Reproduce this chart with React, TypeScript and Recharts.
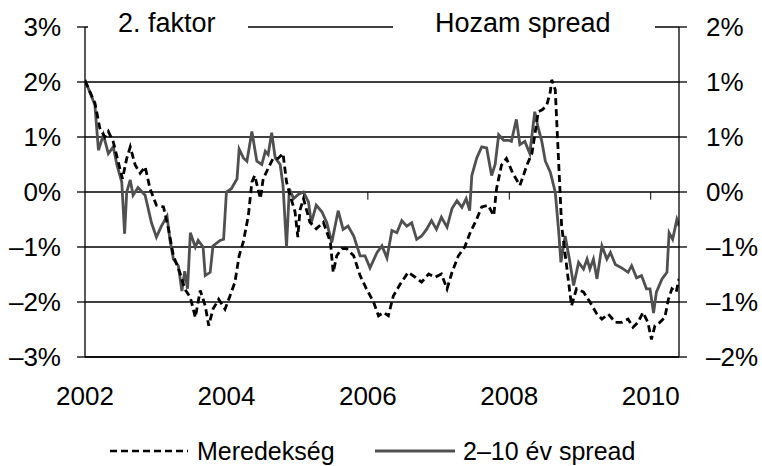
import React from "react";
import {
  LineChart,
  Line,
  XAxis,
  YAxis,
  CartesianGrid,
  ReferenceLine,
} from "recharts";

// Meredekség (2. faktor), left axis, %
const meredeksegDates = [
  2002.0, 2002.14, 2002.21, 2002.28, 2002.33, 2002.4, 2002.47, 2002.53, 2002.59, 2002.64,
  2002.71, 2002.78, 2002.85, 2002.92, 2003.01, 2003.11, 2003.18, 2003.25, 2003.34, 2003.41,
  2003.49, 2003.56, 2003.63, 2003.7, 2003.75, 2003.81, 2003.89, 2003.98, 2004.05, 2004.12,
  2004.18, 2004.24, 2004.31, 2004.36, 2004.4, 2004.48, 2004.52, 2004.59, 2004.66, 2004.73,
  2004.8, 2004.85, 2004.9, 2004.97, 2005.01, 2005.04, 2005.09, 2005.18, 2005.27, 2005.37,
  2005.47, 2005.51, 2005.56, 2005.63, 2005.7, 2005.8, 2005.89, 2005.98, 2006.08, 2006.15,
  2006.22, 2006.29, 2006.36, 2006.46, 2006.57, 2006.67, 2006.76, 2006.86, 2006.95, 2007.04,
  2007.12, 2007.19, 2007.28, 2007.37, 2007.44, 2007.54, 2007.61, 2007.7, 2007.78, 2007.82,
  2007.89, 2007.96, 2008.05, 2008.15, 2008.25, 2008.32, 2008.36, 2008.41, 2008.47, 2008.53,
  2008.58, 2008.6, 2008.65, 2008.7, 2008.74, 2008.81, 2008.88, 2008.95, 2009.05, 2009.14,
  2009.24, 2009.31, 2009.4, 2009.5, 2009.59, 2009.68, 2009.75, 2009.82, 2009.89, 2009.96,
  2010.01, 2010.06, 2010.13, 2010.2, 2010.25, 2010.3, 2010.36, 2010.4,
];
const meredeksegValues = [
  2.02, 1.62, 1.16, 1.0, 1.1, 0.91, 0.55, 0.24, 0.61, 0.82,
  0.49, 0.34, 0.46, 0.06, -0.24, -0.27, -0.67, -1.16, -1.46, -1.76,
  -1.92, -2.28, -1.79, -2.07, -2.43, -2.13, -1.95, -2.13, -1.89, -1.64,
  -1.16, -0.9, -0.43, 0.18, 0.3, -0.12, 0.24, 0.43, 0.61, 0.61,
  0.7, 0.18, -0.06, -0.36, -0.82, -0.33, -0.12, -0.55, -0.67, -0.55,
  -0.91, -1.46, -1.16, -1.03, -1.03, -1.16, -1.52, -1.76, -2.0, -2.25,
  -2.19, -2.25, -1.89, -1.67, -1.46, -1.55, -1.64, -1.49, -1.55, -1.49,
  -1.76, -1.46, -1.16, -1.0, -0.76, -0.49, -0.27, -0.24, -0.43, 0.06,
  0.49, 0.61, 0.34, 0.12, 0.49, 0.7, 1.03, 1.46, 1.5, 1.58,
  1.82, 2.04, 1.86, 0.49, -0.61, -1.34, -2.07, -1.76, -1.82, -2.0,
  -2.22, -2.31, -2.22, -2.37, -2.37, -2.31, -2.46, -2.37, -2.19, -2.37,
  -2.68, -2.43, -2.37, -2.28, -1.95, -1.76, -1.82, -1.58,
];

// 2–10 év spread, right axis, %
const spreadDates = [
  2002.0, 2002.14, 2002.19, 2002.26, 2002.33, 2002.4, 2002.45, 2002.52, 2002.56, 2002.59,
  2002.64, 2002.68, 2002.75, 2002.85, 2002.94, 2003.01, 2003.08, 2003.16, 2003.2, 2003.25,
  2003.32, 2003.37, 2003.41, 2003.45, 2003.49, 2003.56, 2003.6, 2003.67, 2003.7, 2003.77,
  2003.81, 2003.91, 2003.96, 2004.0, 2004.07, 2004.15, 2004.18, 2004.24, 2004.29, 2004.36,
  2004.43, 2004.5, 2004.55, 2004.59, 2004.64, 2004.69, 2004.76, 2004.8, 2004.85, 2004.89,
  2004.95, 2005.02, 2005.09, 2005.16, 2005.2, 2005.27, 2005.35, 2005.42, 2005.49, 2005.58,
  2005.65, 2005.72, 2005.8, 2005.89, 2005.96, 2006.03, 2006.13, 2006.2, 2006.27, 2006.34,
  2006.41, 2006.48, 2006.55, 2006.62, 2006.69, 2006.76, 2006.83, 2006.9, 2006.97, 2007.04,
  2007.12, 2007.19, 2007.26, 2007.33, 2007.39, 2007.44, 2007.47, 2007.54, 2007.61, 2007.68,
  2007.75, 2007.8, 2007.85, 2007.92, 2007.99, 2008.03, 2008.1, 2008.15, 2008.22, 2008.29,
  2008.36, 2008.41, 2008.46, 2008.51, 2008.58, 2008.65, 2008.7, 2008.73, 2008.79, 2008.85,
  2008.91, 2008.98, 2009.05, 2009.1, 2009.14, 2009.19, 2009.24, 2009.31, 2009.38, 2009.43,
  2009.5, 2009.59, 2009.68, 2009.73, 2009.8, 2009.87, 2009.94, 2009.99, 2010.04, 2010.08,
  2010.16, 2010.23, 2010.26, 2010.31, 2010.37, 2010.4,
];
const spreadValues = [
  1.02, 0.79, 0.38, 0.52, 0.35, 0.41, 0.25, 0.09, -0.38, 0.0,
  0.11, -0.03, 0.04, -0.03, -0.28, -0.41, -0.31, -0.22, -0.43, -0.61,
  -0.67, -0.9, -0.72, -0.88, -0.37, -0.5, -0.44, -0.5, -0.76, -0.73,
  -0.49, -0.44, -0.43, 0.0, 0.03, 0.12, 0.39, 0.31, 0.28, 0.55,
  0.28, 0.25, 0.37, 0.34, 0.54, 0.31, 0.25, 0.06, -0.5, 0.03,
  -0.06, -0.02, 0.0, -0.09, -0.28, -0.12, -0.18, -0.28, -0.46, -0.17,
  -0.34, -0.31, -0.4, -0.58, -0.58, -0.69, -0.55, -0.49, -0.6, -0.35,
  -0.37, -0.26, -0.31, -0.28, -0.43, -0.4, -0.34, -0.26, -0.34, -0.23,
  -0.32, -0.15, -0.08, -0.14, -0.06, -0.17, 0.15, 0.31, 0.41, 0.4,
  0.15, 0.25, 0.52, 0.47, 0.47, 0.46, 0.66, 0.43, 0.46, 0.35,
  0.73, 0.58, 0.46, 0.28, 0.18, 0.0, -0.37, -0.64, -0.4, -0.61,
  -0.85, -0.64, -0.7, -0.61, -0.7, -0.61, -0.79, -0.49, -0.61, -0.55,
  -0.66, -0.69, -0.73, -0.67, -0.78, -0.76, -0.88, -0.88, -1.1, -0.91,
  -0.79, -0.73, -0.37, -0.43, -0.25, -0.31,
];

const yearTicks = [2002, 2004, 2006, 2008, 2010];
const leftTicks = [-3, -2, -1, 0, 1, 2, 3];
const rightTicks = [-1.5, -1, -0.5, 0, 0.5, 1, 1.5];

const FONT = "'Liberation Sans', Arial, sans-serif";

const meredeksegData = meredeksegDates.map((d, i) => ({ date: d, value: meredeksegValues[i] }));
const spreadData = spreadDates.map((d, i) => ({ date: d, value: spreadValues[i] }));

// Excel-style rounding (half away from zero), en dash minus
function pct(v: number) {
  const r = Math.sign(v) * Math.round(Math.abs(v));
  return r < 0 ? `\u2013${Math.abs(r)}%` : `${r}%`;
}

const tickStyle = { fill: "#000", fontSize: 26, fontFamily: FONT };

export default function App() {
  return (
    <div
      style={{
        position: "absolute",
        left: 0,
        top: 0,
        width: 762,
        height: 466,
        background: "#fff",
        fontFamily: FONT,
      }}
    >
      <LineChart
        width={762}
        height={466}
        margin={{ top: 27, right: 0, left: 0, bottom: 69 }}
      >
        <CartesianGrid
          horizontal
          vertical={false}
          stroke="#000"
          strokeWidth={1.3}
          yAxisId="left"
        />
        <XAxis
          type="number"
          dataKey="date"
          domain={[2002, 2010.4]}
          ticks={yearTicks}
          allowDataOverflow
          height={40}
          tickLine={false}
          tickSize={0}
          tickMargin={30}
          axisLine={{ stroke: "#000", strokeWidth: 1.3 }}
          tick={tickStyle}
        />
        <YAxis
          yAxisId="left"
          domain={[-3, 3]}
          ticks={leftTicks}
          width={85}
          tickSize={8}
          tickMargin={16}
          tickFormatter={pct}
          axisLine={{ stroke: "#000", strokeWidth: 1.3 }}
          tickLine={{ stroke: "#000", strokeWidth: 1.3 }}
          tick={tickStyle}
        />
        <YAxis
          yAxisId="right"
          orientation="right"
          domain={[-1.5, 1.5]}
          ticks={rightTicks}
          width={83}
          tickSize={8}
          tickMargin={19}
          tickFormatter={pct}
          axisLine={{ stroke: "#000", strokeWidth: 1.3 }}
          tickLine={{ stroke: "#000", strokeWidth: 1.3 }}
          tick={tickStyle}
        />
        {yearTicks.slice(1).map((yr) => (
          <ReferenceLine
            key={yr}
            yAxisId="left"
            segment={[
              { x: yr, y: 0 },
              { x: yr, y: -0.14 },
            ]}
            stroke="#000"
            strokeWidth={1}
          />
        ))}
        <Line
          yAxisId="right"
          data={spreadData}
          dataKey="value"
          type="linear"
          stroke="#505050"
          strokeWidth={2.8}
          dot={false}
          isAnimationActive={false}
        />
        <Line
          yAxisId="left"
          data={meredeksegData}
          dataKey="value"
          type="linear"
          stroke="#000"
          strokeWidth={2.8}
          strokeDasharray="7 4"
          dot={false}
          isAnimationActive={false}
        />
      </LineChart>

      {/* axis titles sitting on the top border */}
      <div
        style={{
          position: "absolute",
          left: 88,
          top: 10,
          width: 160,
          height: 26,
          background: "#fff",
          fontSize: 27,
          lineHeight: "26px",
          whiteSpace: "nowrap",
        }}
      >
        <span style={{ position: "absolute", left: 30 }}>2. faktor</span>
      </div>
      <div
        style={{
          position: "absolute",
          left: 393,
          top: 10,
          width: 262,
          height: 26,
          background: "#fff",
          fontSize: 27,
          lineHeight: "26px",
          whiteSpace: "nowrap",
        }}
      >
        <span style={{ position: "absolute", left: 42 }}>Hozam spread</span>
      </div>

      {/* legend */}
      <svg
        width={762}
        height={30}
        style={{ position: "absolute", left: 0, top: 436 }}
      >
        <line x1={110} x2={188} y1={15} y2={15} stroke="#000" strokeWidth={2.6} strokeDasharray="7 4" />
        <text x={197} y={24} fontSize={25} fill="#000" fontFamily={FONT}>
          Meredekség
        </text>
        <line x1={375} x2={455} y1={15} y2={15} stroke="#505050" strokeWidth={2.8} />
        <text x={463} y={24} fontSize={25} fill="#000" fontFamily={FONT}>
          2–10 év spread
        </text>
      </svg>
    </div>
  );
}
